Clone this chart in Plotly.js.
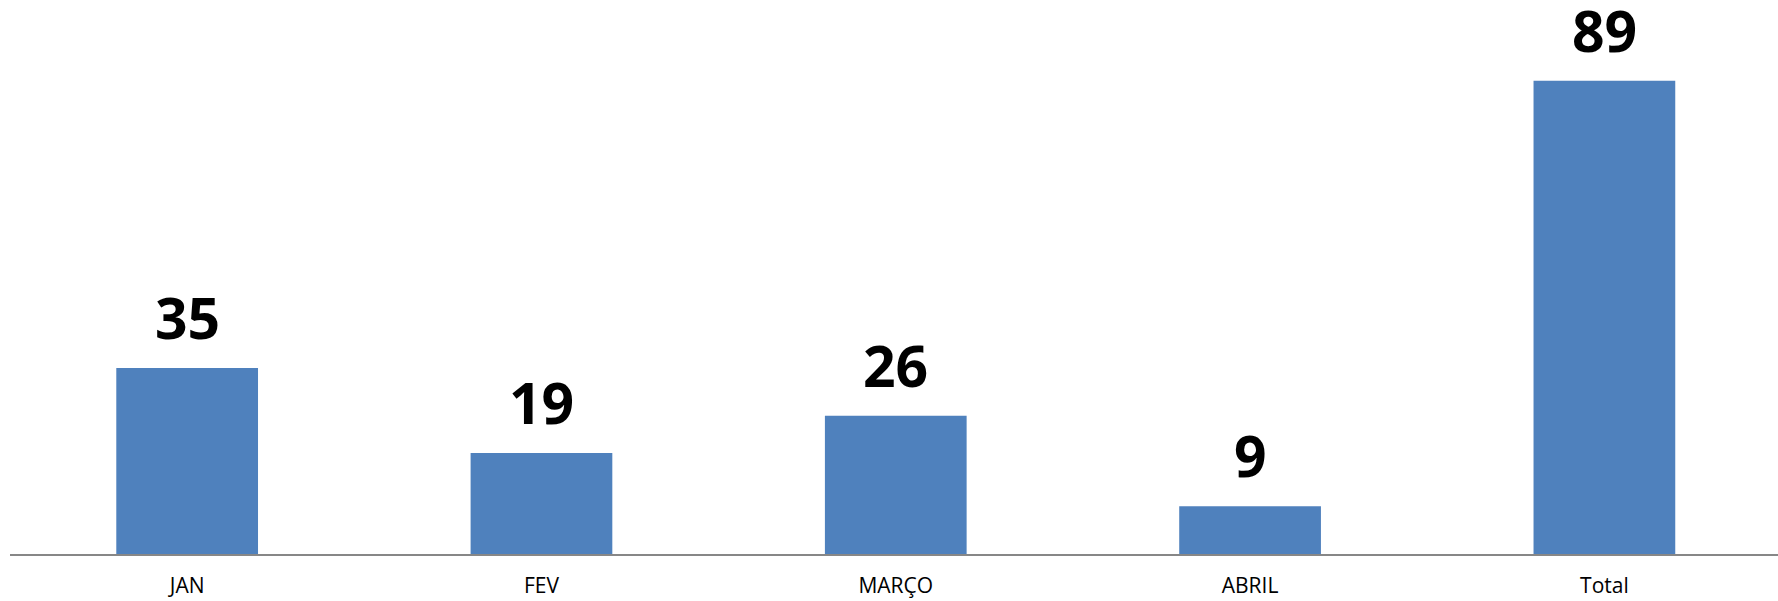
<!DOCTYPE html>
<html>
<head>
<meta charset="utf-8">
<script src="https://cdn.plot.ly/plotly-3.0.1.min.js"></script>
<style>html,body{margin:0;padding:0;background:#fff;overflow:hidden}</style>
</head>
<body>
<div id="chart" style="width:1778px;height:601px"></div>
<script>
const categories = ["JAN", "FEV", "MARÇO", "ABRIL", "Total"];
const values = [35, 19, 26, 9, 89];

const annotations = categories.map((c, i) => ({
  x: c, y: values[i], xref: 'x', yref: 'y',
  text: '<b>' + values[i] + '</b>',
  showarrow: false, yanchor: 'bottom', yshift: 10,
  font: {family: 'Open Sans', size: 57, color: '#000000'}
}));

Plotly.newPlot('chart', [{
  type: 'bar',
  x: categories,
  y: values,
  marker: {color: '#4F81BD'},
  width: 0.4,
  hoverinfo: 'none'
}], {
  width: 1778, height: 601,
  margin: {l: 10, r: 0, t: 0, b: 47, pad: 0},
  paper_bgcolor: '#ffffff', plot_bgcolor: '#ffffff',
  showlegend: false,
  bargap: 0.6,
  xaxis: {
    type: 'category',
    range: [-0.5, 4.49],
    showline: true, linecolor: '#878787', linewidth: 2,
    showgrid: false, zeroline: false,
    ticks: 'outside', ticklen: 0, tickcolor: 'rgba(0,0,0,0)',
    ticklabelstandoff: 12,
    tickfont: {family: 'Open Sans', size: 21, color: '#000000'}
  },
  yaxis: {
    range: [0, 104.2],
    visible: false, showgrid: false, zeroline: false
  },
  annotations: annotations
}, {displayModeBar: false, staticPlot: true});
</script>
</body>
</html>
